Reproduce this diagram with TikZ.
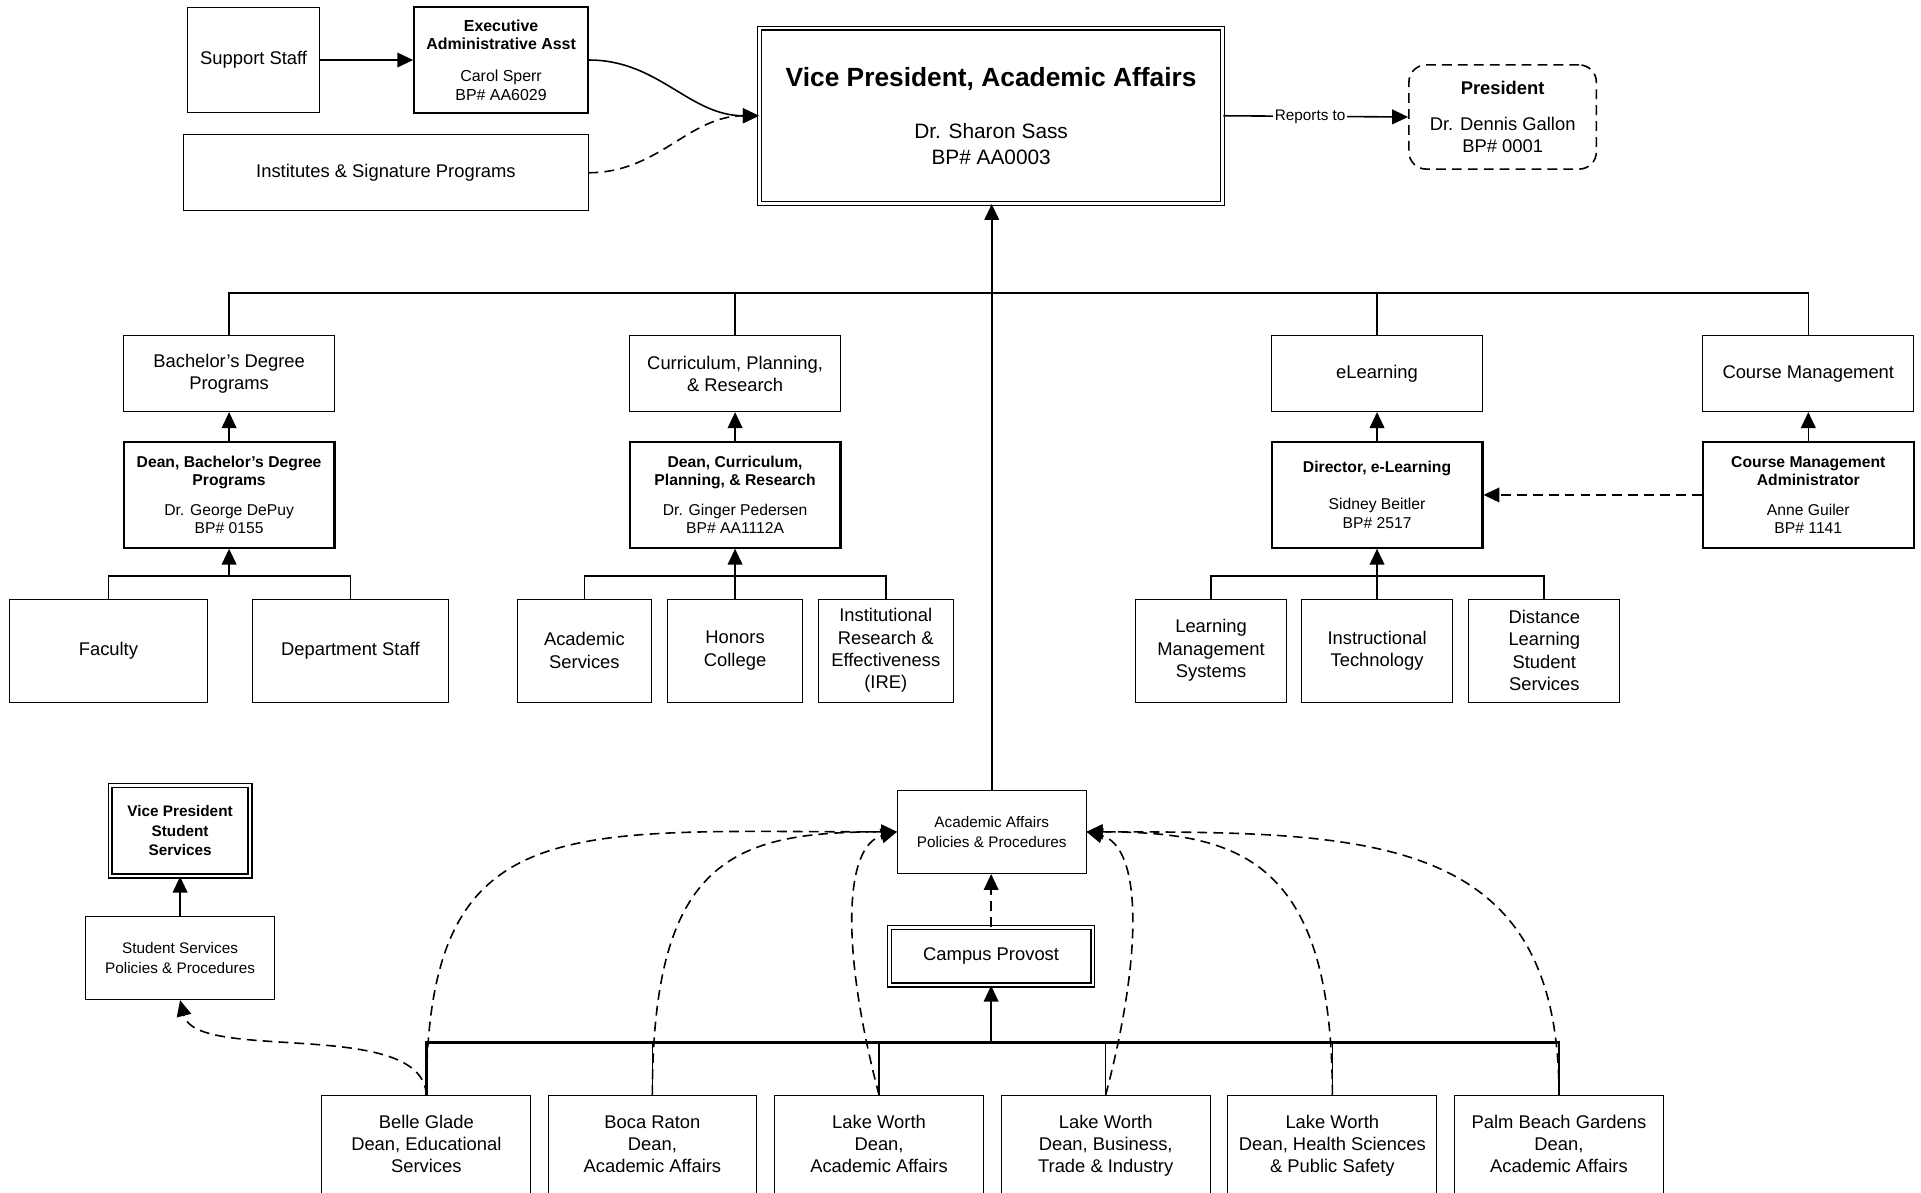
\documentclass[tikz,border=0pt]{standalone}
\usepackage{fontspec}
\setmainfont{Liberation Sans}
\usetikzlibrary{arrows.meta}
\newcommand\fsz[2]{\fontsize{#1}{#2}\selectfont}
\begin{document}
\begin{tikzpicture}[x=1pt,y=-1pt,
  box/.style={draw,line width=0.8pt,align=center,inner sep=0pt,font=\fsz{15}{18.3}},
  thickbox/.style={box,line width=1.8pt,font=\fsz{12.8}{15}},
  dbox/.style={draw,double,double distance=2pt,line width=1.1pt,align=center,inner sep=0pt},
  openbox/.style={align=center,inner sep=0pt,font=\fsz{15}{18},minimum width=170pt,minimum height=83pt},
  conn/.style={line width=1.3pt},
  arr/.style={conn,-{Triangle[length=13pt,width=12pt]}},
  dconn/.style={conn,dash pattern=on 8pt off 5pt},
  darr/.style={arr,dash pattern=on 8pt off 5pt},
]
\fill[white] (0,0) rectangle (1568,973);
\useasboundingbox (0,0) rectangle (1568,973);

% top row
\node[box,minimum width=108pt,minimum height=86pt] (ss) at (207,49) {Support Staff};
\node[thickbox,line width=1.5pt,font=\fsz{13}{15},minimum width=142pt,minimum height=86pt] (exec) at (409,49)
  {\textbf{Executive}\\\textbf{Administrative Asst}\\[11pt]Carol Sperr\\BP\# AA6029};
\node[box,minimum width=330pt,minimum height=62pt] (inst) at (315,141) {Institutes \& Signature Programs};
\node[dbox,minimum width=378pt,minimum height=143pt,font=\fsz{17}{21}] (vp) at (809,94.5)
  {{\bfseries\fsz{21.5}{24}Vice President, Academic Affairs}\\[22pt]Dr. Sharon Sass\\BP\# AA0003};
\node[draw,dash pattern=on 8pt off 5pt,rounded corners=14pt,line width=1.3pt,minimum width=153pt,minimum height=85pt,
  align=center,inner sep=0pt,font=\fsz{15}{18}] (pres) at (1226.5,95.5)
  {\textbf{President}\\[11pt]Dr. Dennis Gallon\\BP\# 0001};

\draw[arr] (ss.east) -- (exec.west);
\draw[arr] (exec.east) to[out=0,in=180] (vp.west);
\draw[darr] (inst.east) to[out=0,in=180] (vp.west);
\draw[arr] (vp.east) -- node[fill=white,inner sep=1.5pt,font=\fsz{12.5}{15},pos=0.47] (rep) {Reports to} (pres.west);

% second row
\node[box,minimum width=172pt,minimum height=62pt] (bach) at (187,305) {Bachelor’s Degree\\Programs};
\node[box,minimum width=172pt,minimum height=62pt] (cur) at (600,305) {Curriculum, Planning,\\\& Research};
\node[box,minimum width=172pt,minimum height=62pt] (el) at (1124,305) {eLearning};
\node[box,minimum width=172pt,minimum height=62pt] (cm) at (1476,305) {Course Management};

\node[thickbox,minimum width=172pt,minimum height=86pt] (deanB) at (187,404)
  {\textbf{Dean, Bachelor’s Degree}\\\textbf{Programs}\\[9pt]Dr. George DePuy\\BP\# 0155};
\node[thickbox,minimum width=172pt,minimum height=86pt] (deanC) at (600,404)
  {\textbf{Dean, Curriculum,}\\\textbf{Planning, \& Research}\\[9pt]Dr. Ginger Pedersen\\BP\# AA1112A};
\node[thickbox,minimum width=172pt,minimum height=86pt] (dir) at (1124,404)
  {\textbf{Director, e-Learning}\\[15pt]Sidney Beitler\\BP\# 2517};
\node[thickbox,minimum width=172pt,minimum height=86pt] (cma) at (1476,404)
  {\textbf{Course Management}\\\textbf{Administrator}\\[9pt]Anne Guiler\\BP\# 1141};

\coordinate (tbus) at (809,239);
\draw[conn] (bach.north) |- (tbus) -| (cm.north);
\draw[conn] (cur.north) -- (cur.north |- tbus);
\draw[conn] (el.north) -- (el.north |- tbus);
\draw[arr] (deanB.north) -- (bach.south);
\draw[arr] (deanC.north) -- (cur.south);
\draw[arr] (dir.north) -- (el.south);
\draw[arr] (cma.north) -- (cm.south);
\draw[darr] (cma.west) -- (dir.east);

% third row
\node[box,minimum width=161pt,minimum height=84pt] (fac) at (88.5,531) {Faculty};
\node[box,minimum width=160pt,minimum height=84pt] (dept) at (286,531) {Department Staff};
\node[box,minimum width=110pt,minimum height=84pt] (acs) at (477,531) {Academic\\Services};
\node[box,minimum width=110pt,minimum height=84pt] (hon) at (600,531) {Honors\\College};
\node[box,minimum width=110pt,minimum height=84pt] (ire) at (723,531) {Institutional\\Research \&\\Effectiveness\\(IRE)};
\node[box,minimum width=123pt,minimum height=84pt] (lms) at (988.5,531) {Learning\\Management\\Systems};
\node[box,minimum width=123pt,minimum height=84pt] (it) at (1124,531) {Instructional\\Technology};
\node[box,minimum width=123pt,minimum height=84pt] (dl) at (1260.5,531) {Distance\\Learning\\Student\\Services};

\coordinate (busB) at (187,470);
\draw[conn] (fac.north) |- (busB) -| (dept.north);
\draw[arr] (busB) -- (deanB.south);
\coordinate (busC) at (600,470);
\draw[conn] (acs.north) |- (busC) -| (ire.north);
\draw[arr] (hon.north) -- (deanC.south);
\coordinate (busE) at (1124,470);
\draw[conn] (lms.north) |- (busE) -| (dl.north);
\draw[arr] (it.north) -- (dir.south);

% policies area
\node[box,font=\fsz{12.5}{16},minimum width=154pt,minimum height=68pt] (aapp) at (809.5,679) {Academic Affairs\\Policies \& Procedures};
\node[dbox,font=\fsz{15}{18},minimum width=166pt,minimum height=47pt] (cp) at (809,780.5) {Campus Provost};
\node[dbox,font=\bfseries\fsz{12.5}{16},minimum width=114pt,minimum height=74pt] (vpss) at (147,678) {Vice President\\Student\\Services};
\node[box,font=\fsz{12.5}{16},minimum width=154pt,minimum height=68pt] (sspp) at (147,782) {Student Services\\Policies \& Procedures};

\draw[arr] (aapp.north) -- (aapp.north |- vp.south);
\draw[darr] (cp.north) -- (cp.north |- aapp.south);
\draw[arr] (sspp.north) -- (vpss.south);

% bottom row
\node[openbox] (bg) at (348,935.5) {\strut Belle Glade\\Dean, Educational\\Services\strut};
\node[openbox] (br) at (532.5,935.5) {\strut Boca Raton\\Dean,\\Academic Affairs\strut};
\node[openbox] (lw) at (717.5,935.5) {\strut Lake Worth\\Dean,\\Academic Affairs\strut};
\node[openbox] (lwb) at (902.5,935.5) {\strut Lake Worth\\Dean, Business,\\Trade \& Industry\strut};
\node[openbox] (lwh) at (1087.5,935.5) {\strut Lake Worth\\Dean, Health Sciences\\\& Public Safety\strut};
\node[openbox] (pbg) at (1272.5,935.5) {\strut Palm Beach Gardens\\Dean,\\Academic Affairs\strut};
\foreach \n in {bg,br,lw,lwb,lwh,pbg}{
  \draw[line width=0.8pt] (\n.south west) -- (\n.north west) -- (\n.north east) -- (\n.south east);
}

\coordinate (bbus) at (809,851);
\draw[conn,line width=2pt] (bg.north) |- (bbus) -| (pbg.north);
\draw[conn] (br.north) -- (br.north |- bbus);
\draw[conn] (lw.north) -- (lw.north |- bbus);
\draw[conn] (lwb.north) -- (lwb.north |- bbus);
\draw[conn] (lwh.north) -- (lwh.north |- bbus);
\draw[arr] (bbus) -- (cp.south);

% dashed relations
\draw[darr] (bg.north) .. controls (348,660) and (460,679) .. (aapp.west);
\draw[darr] (br.north) .. controls (532.5,700) and (600,679) .. (aapp.west);
\draw[darr] (lw.north) .. controls (685,770) and (690,690) .. (aapp.west);
\draw[darr] (lwb.north) .. controls (935,770) and (930,690) .. (aapp.east);
\draw[darr] (lwh.north) .. controls (1087.5,700) and (1010,679) .. (aapp.east);
\draw[darr] (pbg.north) .. controls (1272.5,680) and (1120,679) .. (aapp.east);
\draw[darr] (bg.north) .. controls (345,830) and (160,868) .. (sspp.south);
\end{tikzpicture}
\end{document}
